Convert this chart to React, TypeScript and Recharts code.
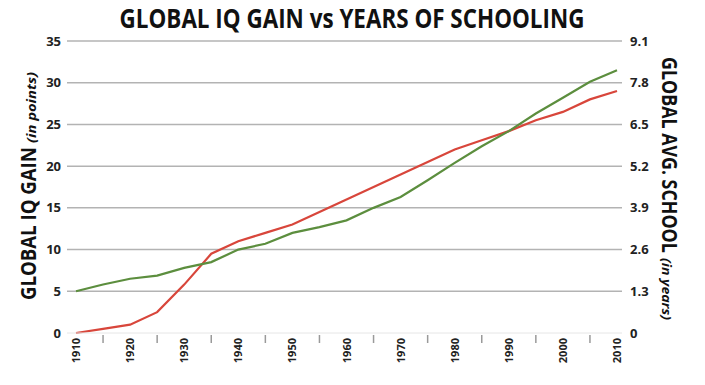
import React, { useLayoutEffect, useRef, useState } from 'react';
import { LineChart, Line, XAxis, YAxis, ReferenceLine } from 'recharts';

const years = [1910, 1915, 1920, 1925, 1930, 1935, 1940, 1945, 1950, 1955, 1960, 1965, 1970, 1975, 1980, 1985, 1990, 1995, 2000, 2005, 2010];
// IQ gain, points (left axis)
const iqGain = [0, 0.5, 1.0, 2.5, 5.8, 9.5, 11.0, 12.0, 13.0, 14.5, 16.0, 17.5, 19.0, 20.5, 22.0, 23.1, 24.2, 25.5, 26.5, 28.0, 29.0];
// average schooling, years (right axis)
const schooling = [1.3, 1.51, 1.69, 1.79, 2.03, 2.21, 2.6, 2.78, 3.12, 3.3, 3.51, 3.9, 4.24, 4.76, 5.3, 5.82, 6.29, 6.84, 7.33, 7.83, 8.19];

const iqTicks = [0, 5, 10, 15, 20, 25, 30, 35];
const schoolTicks = [0, 1.3, 2.6, 3.9, 5.2, 6.5, 7.8, 9.1];
const gridValues = [5, 10, 15, 20, 25, 30, 35];

const FONT = "'Open Sans', 'DejaVu Sans', sans-serif";

const data = years.map((year, i) => ({ year, iq: iqGain[i], school: schooling[i] }));

// squeezes a text to a given length (condensed look) with a scale transform
const FitText = ({ x, y, rotate = 0, length, children, ...rest }: any) => {
  const ref = useRef<SVGTextElement>(null);
  const [sx, setSx] = useState(1);
  useLayoutEffect(() => {
    const w = ref.current ? ref.current.getComputedTextLength() : 0;
    if (w > 0) setSx(length / w);
  }, [length, children]);
  return (
    <text ref={ref} x={0} y={0} transform={`translate(${x} ${y}) rotate(${rotate}) scale(${sx} 1)`} {...rest}>
      {children}
    </text>
  );
};

const YearTick = (props: any) => {
  const { x, y, payload } = props;
  const year = payload.value as number;
  if (year % 10 !== 0) {
    return <line x1={x} x2={x} y1={y + 2} y2={y + 10} stroke="#9a9a9a" strokeWidth={1.5} />;
  }
  const tx = x + 4;
  const ty = y + 5;
  return (
    <text
      x={tx}
      y={ty}
      transform={`rotate(-90 ${tx} ${ty})`}
      textAnchor="end"
      fontSize={11}
      fontWeight={700}
      fontFamily={FONT}
      fill="#222"
    >
      {year}
    </text>
  );
};

const LeftTitle = (props: any) => {
  const { viewBox } = props;
  const bx = viewBox.x + 36;
  const sy = viewBox.y + viewBox.height - 33;
  return (
    <g fontFamily={FONT} fill="#111" fontWeight={700}>
      <FitText x={bx} y={sy} rotate={-90} length={153} fontSize={21}>
        GLOBAL IQ GAIN
      </FitText>
      <FitText x={bx} y={sy - 157} rotate={-90} length={71} fontSize={13} fontStyle="italic">
        (in points)
      </FitText>
    </g>
  );
};

const RightTitle = (props: any) => {
  const { viewBox } = props;
  const bx = viewBox.x + 40;
  const sy = viewBox.y + 16;
  return (
    <g fontFamily={FONT} fill="#111" fontWeight={700}>
      <FitText x={bx} y={sy} rotate={90} length={196} fontSize={21}>
        GLOBAL AVG. SCHOOL
      </FitText>
      <FitText x={bx} y={sy + 201} rotate={90} length={62} fontSize={13} fontStyle="italic">
        (in years)
      </FitText>
    </g>
  );
};

export default function App() {
  return (
    <div style={{ position: 'absolute', left: 0, top: 0, width: 705, height: 385, background: '#fff' }}>
      <svg width={705} height={40} style={{ position: 'absolute', left: 0, top: 0 }}>
        <FitText
          x={352}
          y={28}
          textAnchor="middle"
          fontFamily={FONT}
          fontWeight={700}
          fontSize={27}
          fill="#111"
          length={465}
        >
          GLOBAL IQ GAIN vs YEARS OF SCHOOLING
        </FitText>
      </svg>
      <LineChart width={705} height={385} data={data} margin={{ top: 41, right: 0, bottom: 0, left: 0 }}>
        <XAxis
          dataKey="year"
          type="number"
          domain={[1910, 2010]}
          ticks={years}
          padding={{ left: 9, right: 5 }}
          height={52}
          tickSize={0}
          tickMargin={0}
          tickLine={false}
          axisLine={{ stroke: '#e6e6e6', strokeWidth: 1 }}
          tick={<YearTick />}
          interval={0}
        />
        <YAxis
          yAxisId="left"
          orientation="left"
          domain={[0, 35]}
          ticks={iqTicks}
          width={67}
          tickSize={0}
          tickMargin={6}
          tickLine={false}
          axisLine={false}
          interval={0}
          tick={{ fontSize: 13, fontWeight: 700, fill: '#222', fontFamily: FONT }}
          label={<LeftTitle />}
        />
        <YAxis
          yAxisId="right"
          orientation="right"
          domain={[0, 9.1]}
          ticks={schoolTicks}
          width={83}
          tickSize={0}
          tickMargin={8}
          tickLine={false}
          axisLine={false}
          interval={0}
          tickFormatter={(v: number) => (v === 0 ? '0' : v.toFixed(1))}
          tick={{ fontSize: 13, fontWeight: 700, fill: '#222', fontFamily: FONT }}
          label={<RightTitle />}
        />
        {gridValues.map((v) => (
          <ReferenceLine key={v} yAxisId="left" y={v} stroke="#b3b3b3" strokeWidth={1.5} />
        ))}
        <Line
          yAxisId="left"
          type="linear"
          dataKey="iq"
          stroke="#d8463b"
          strokeWidth={2.2}
          dot={false}
          activeDot={false}
          isAnimationActive={false}
        />
        <Line
          yAxisId="right"
          type="linear"
          dataKey="school"
          stroke="#5c8e3e"
          strokeWidth={2.2}
          dot={false}
          activeDot={false}
          isAnimationActive={false}
        />
      </LineChart>
    </div>
  );
}
